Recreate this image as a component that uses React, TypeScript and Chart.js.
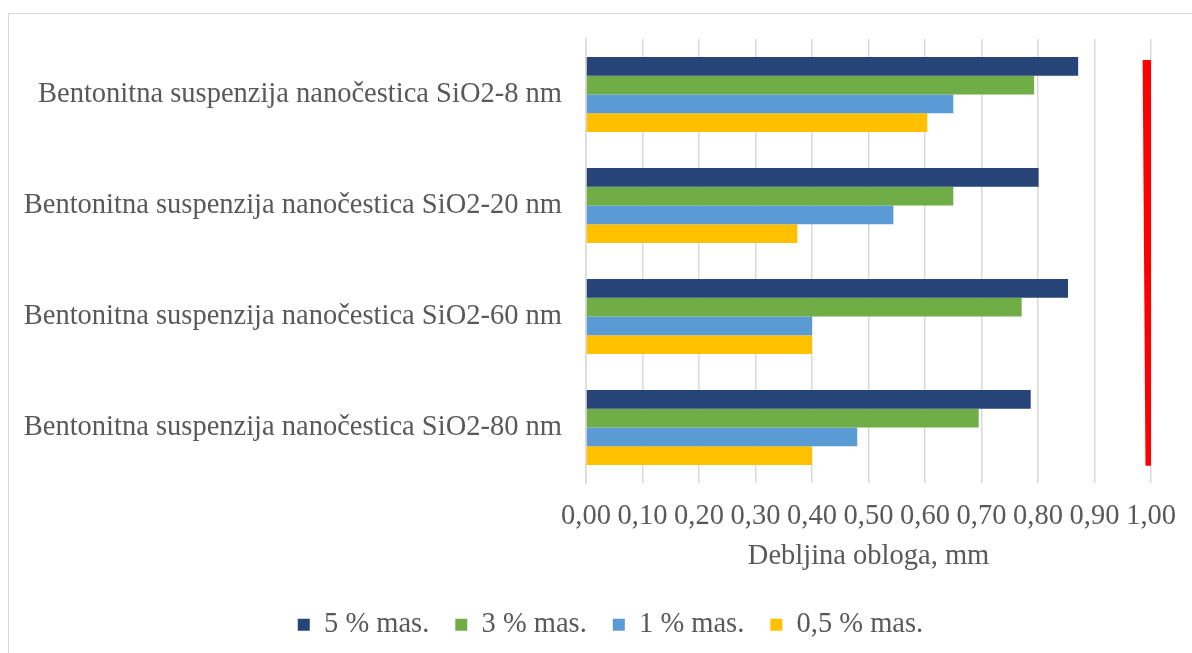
import React, { useEffect, useRef } from "react";
import { Chart, registerables } from "chart.js";

Chart.register(...registerables);

const categories = [
  "Bentonitna suspenzija nanočestica SiO2-8 nm",
  "Bentonitna suspenzija nanočestica SiO2-20 nm",
  "Bentonitna suspenzija nanočestica SiO2-60 nm",
  "Bentonitna suspenzija nanočestica SiO2-80 nm",
];

const seriesLabels = ["5 % mas.", "3 % mas.", "1 % mas.", "0,5 % mas."];
const series5 = [0.871, 0.801, 0.853, 0.787];
const series3 = [0.793, 0.65, 0.771, 0.695];
const series1 = [0.65, 0.544, 0.4, 0.48];
const series05 = [0.604, 0.374, 0.4, 0.4];
const seriesColors = ["#264478", "#70AD47", "#5B9BD5", "#FFC000"];

// red limit line: x in mm, y in category-index units (top to bottom)
const limitLineX = [0.994, 0.999];
const limitLineY = [-0.311, 3.344];

const FONT = "'Liberation Serif', 'Times New Roman', serif";
const FS = 28.5;
const TEXT = "#595959";
const LEGEND_SHIFT = 30;

const legendShift = {
  id: "legendShift",
  afterLayout(chart: any) {
    if (chart.legend) {
      chart.legend.left += LEGEND_SHIFT;
      chart.legend.right += LEGEND_SHIFT;
    }
  },
};

export default function App() {
  const ref = useRef<HTMLCanvasElement | null>(null);

  useEffect(() => {
    if (!ref.current) return;
    const values = [series5, series3, series1, series05];
    const chart = new Chart(ref.current, {
      type: "bar",
      data: {
        labels: categories,
        datasets: [
          ...values.map((v, i) => ({
            type: "bar" as const,
            label: seriesLabels[i],
            data: v,
            backgroundColor: seriesColors[i],
            borderWidth: 0,
            categoryPercentage: 0.676,
            barPercentage: 1.0,
          })),
          {
            type: "line" as const,
            label: "",
            parsing: false,
            data: limitLineX.map((x, i) => ({ x, y: limitLineY[i] })),
            borderColor: "#FF0000",
            borderWidth: 10,
            borderCapStyle: "butt",
            pointRadius: 0,
            fill: false,
          } as any,
        ],
      },
      plugins: [legendShift],
      options: {
        indexAxis: "y",
        animation: false,
        responsive: true,
        maintainAspectRatio: false,
        layout: { padding: { top: 25, right: 40, bottom: 4, left: 0 } },
        font: { family: FONT, size: FS },
        plugins: {
          tooltip: { enabled: false },
          legend: {
            position: "bottom",
            labels: {
              color: TEXT,
              font: { family: FONT, size: FS },
              boxWidth: 12,
              boxHeight: 12,
              padding: 26,
              filter: (item: any) => item.text !== "",
            },
          },
        },
        scales: {
          x: {
            type: "linear",
            position: "bottom",
            min: 0,
            max: 1,
            ticks: {
              stepSize: 0.1,
              color: TEXT,
              font: { family: FONT, size: FS },
              padding: 16,
              maxRotation: 0,
              autoSkip: false,
              callback: (v: any) => Number(v).toFixed(2).replace(".", ","),
            },
            grid: { color: "#d9d9d9", lineWidth: 1.5, drawTicks: false },
            border: { display: false },
            title: {
              display: true,
              text: "Debljina obloga, mm",
              color: TEXT,
              font: { family: FONT, size: FS },
              padding: { top: -10, bottom: 11 },
            },
          },
          y: {
            type: "category",
            position: "left",
            ticks: {
              color: TEXT,
              font: { family: FONT, size: FS },
              padding: 24,
            },
            grid: { display: false, drawTicks: false },
            border: { display: true, color: "#d9d9d9", width: 1.5 },
            afterFit: (scale: any) => {
              scale.width = 577;
              scale.paddingTop = 0;
              scale.paddingBottom = 0;
            },
          },
        },
      } as any,
    });
    return () => chart.destroy();
  }, []);

  return (
    <div
      style={{
        position: "absolute",
        left: 8,
        top: 13,
        width: 1184,
        height: 640,
        borderLeft: "1px solid #d9d9d9",
        borderTop: "1px solid #d9d9d9",
        boxSizing: "border-box",
        background: "#fff",
      }}
    >
      <div style={{ position: "absolute", left: 0, top: 0, width: 1183, height: 639 }}>
        <canvas ref={ref} />
      </div>
    </div>
  );
}
